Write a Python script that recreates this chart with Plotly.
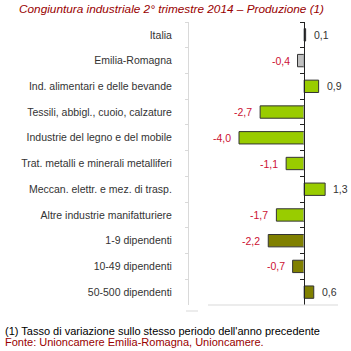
import plotly.graph_objects as go

categories = [
    "Italia",
    "Emilia-Romagna",
    "Ind. alimentari e delle bevande",
    "Tessili, abbigl., cuoio, calzature",
    "Industrie del legno e del mobile",
    "Trat. metalli e minerali metalliferi",
    "Meccan. elettr. e mez. di trasp.",
    "Altre industrie manifatturiere",
    "1-9 dipendenti",
    "10-49 dipendenti",
    "50-500 dipendenti",
]
values = [0.1, -0.4, 0.9, -2.7, -4.0, -1.1, 1.3, -1.7, -2.2, -0.7, 0.6]
groups = ["italia", "regione", "settore", "settore", "settore", "settore",
          "settore", "settore", "classe", "classe", "classe"]

group_colors = {"italia": "#14143c", "regione": "#c0c0c0",
                "settore": "#99cc00", "classe": "#808000"}
bar_colors = [group_colors[g] for g in groups]

title_text = "Congiuntura industriale 2° trimestre 2014 – Produzione (1)"
note_text = "(1) Tasso di variazione sullo stesso periodo dell'anno precedente"
source_text = "Fonte: Unioncamere Emilia-Romagna, Unioncamere."

W = H = 351
zero_px = 304
px_per_unit = 16.25
left_px, right_px = 189, 345
top_px, bottom_px = 22, 305

font_family = "Liberation Sans, Arial, sans-serif"
red = "#cc1133"
dark_red = "#990000"

fig = go.Figure()
fig.add_trace(go.Bar(
    x=values, y=categories, orientation="h",
    marker=dict(color=bar_colors, line=dict(color="#333333", width=1)),
    width=0.48, hoverinfo="skip", showlegend=False,
))
# invisible copy to share the category scale on the zero-line axis
fig.add_trace(go.Bar(
    x=[0] * len(categories), y=categories, orientation="h", yaxis="y2",
    marker=dict(color="rgba(0,0,0,0)"), hoverinfo="skip", showlegend=False,
))

for v, c in zip(values, categories):
    txt = f"{v:.1f}".replace(".", ",")
    fig.add_annotation(
        x=v, y=c, xref="x", yref="y", text=txt, showarrow=False,
        xanchor="right" if v < 0 else "left",
        xshift=-6 if v < 0 else 6,
        font=dict(family=font_family, size=10.5,
                  color=red if v < 0 else "#333333"),
    )

fig.add_annotation(x=17 / W, y=1 - 9 / H, xref="paper", yref="paper",
                   text=f"<i>{title_text}</i>", showarrow=False,
                   xanchor="left", yanchor="middle",
                   font=dict(family=font_family, size=11.8, color=dark_red))
fig.add_annotation(x=3 / W, y=1 - 331 / H, xref="paper", yref="paper",
                   text=note_text, showarrow=False,
                   xanchor="left", yanchor="middle",
                   font=dict(family=font_family, size=11, color="#000000"))
fig.add_annotation(x=3 / W, y=1 - 342 / H, xref="paper", yref="paper",
                   text=source_text, showarrow=False,
                   xanchor="left", yanchor="middle",
                   font=dict(family=font_family, size=11, color=dark_red))

# decorative gray lines at the bottom
fig.add_shape(type="line", xref="paper", yref="paper",
              x0=208 / W, x1=338 / W, y0=1 - 305 / H, y1=1 - 305 / H,
              line=dict(color="#d9d9d9", width=1))
fig.add_shape(type="line", xref="paper", yref="paper",
              x0=186 / W, x1=198 / W, y0=1 - 311 / H, y1=1 - 311 / H,
              line=dict(color="#d9d9d9", width=1))

xmin = (left_px - zero_px) / px_per_unit
xmax = (right_px - zero_px) / px_per_unit

fig.update_layout(
    width=W, height=H,
    margin=dict(l=0, r=0, t=0, b=0),
    paper_bgcolor="white", plot_bgcolor="white",
    bargap=0.52,
    xaxis=dict(domain=[left_px / W, right_px / W], range=[xmin, xmax],
               showgrid=False, zeroline=False, showline=False,
               showticklabels=False, ticks=""),
    yaxis=dict(domain=[1 - bottom_px / H, 1 - top_px / H],
               type="category", categoryorder="array",
               categoryarray=categories, autorange="reversed",
               showgrid=False, showline=True, linecolor="#d9d9d9",
               linewidth=1, ticks="outside", ticklen=3,
               tickcolor="#d9d9d9", tickson="boundaries",
               ticklabelstandoff=14,
               tickfont=dict(family=font_family, size=10.5, color="#333333")),
    yaxis2=dict(overlaying="y", anchor="free", position=zero_px / W,
                side="left", type="category", categoryorder="array",
                categoryarray=categories, autorange="reversed",
                showgrid=False, showline=True, linecolor="#222222",
                linewidth=1, ticks="outside", ticklen=4,
                tickcolor="#222222", tickson="boundaries",
                showticklabels=False),
)

fig.write_html("out.html")
